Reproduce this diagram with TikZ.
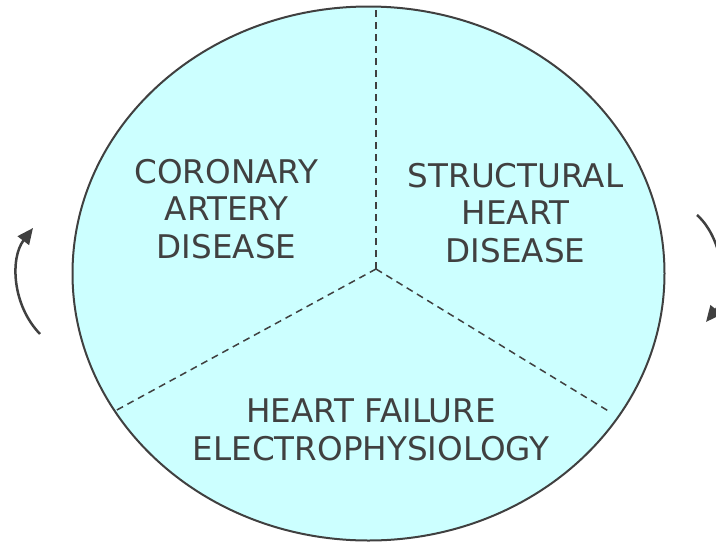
\documentclass[tikz,border=0pt]{standalone}
\usepackage{fontspec}
\setmainfont{DejaVu Sans}
\usetikzlibrary{arrows.meta,shapes.geometric}
\definecolor{ink}{HTML}{404040}
\definecolor{fillc}{HTML}{CCFFFF}
\begin{document}
\begin{tikzpicture}[x=1pt,y=-1pt,
 lbl/.style={text=ink,font=\fontsize{32.6}{37.8}\selectfont,align=center,inner sep=0pt},
 oval/.style={ellipse,draw=ink,fill=fillc,line width=2pt,inner sep=0pt,minimum width=592pt,minimum height=534pt},
 divider/.style={draw=ink,line width=1.5pt,dash pattern=on 7pt off 5pt},
 cyc/.style={draw=ink,line width=2.5pt,-{Triangle[length=16pt,width=14pt]}}]
\useasboundingbox (0,0) rectangle (716,542);
\clip (0,0) rectangle (716,542);
\node[oval] (disc) at (368.5,273.5) {};
\coordinate (hub) at (376,269);
\coordinate (ptop) at (376,7);
\coordinate (pleft) at (115,411);
\coordinate (pright) at (610,412);
\draw[divider] (hub) -- (ptop);
\draw[divider] (hub) -- (pleft);
\draw[divider] (hub) -- (pright);
\node[lbl] (cad) at (226.5,209) {CORONARY\\ARTERY\\DISEASE};
\node[lbl] (shd) at (515.5,213) {STRUCTURAL\\HEART\\DISEASE};
\node[lbl] (hf) at (371,429.5) {HEART FAILURE\\ELECTROPHYSIOLOGY};
\coordinate (la) at (40,334);
\coordinate (lb) at (33,228);
\coordinate (ra) at (697,215);
\coordinate (rb) at (706,322);
\draw[cyc] (la) .. controls (12,305) and (10,258) .. (lb);
\draw[cyc] (ra) .. controls (725,240) and (728,295) .. (rb);
\end{tikzpicture}
\end{document}
